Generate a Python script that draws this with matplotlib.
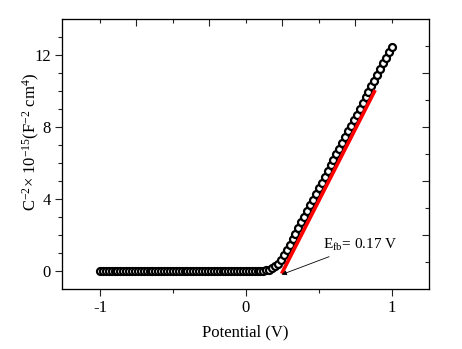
import matplotlib
matplotlib.use("Agg")
import matplotlib.pyplot as plt

plt.rcParams["font.family"] = ["Liberation Serif", "DejaVu Serif"]
plt.rcParams["mathtext.fontset"] = "custom"
plt.rcParams["mathtext.rm"] = "Liberation Serif"
plt.rcParams["mathtext.it"] = "Liberation Serif:italic"
plt.rcParams["axes.unicode_minus"] = False

# Mott-Schottky data (V, C^-2 x 1e-15)
potential = [
    -1.00, -0.98, -0.96, -0.94, -0.92, -0.90, -0.88, -0.86, -0.84, -0.82,
    -0.80, -0.78, -0.76, -0.74, -0.72, -0.70, -0.68, -0.66, -0.64, -0.62,
    -0.60, -0.58, -0.56, -0.54, -0.52, -0.50, -0.48, -0.46, -0.44, -0.42,
    -0.40, -0.38, -0.36, -0.34, -0.32, -0.30, -0.28, -0.26, -0.24, -0.22,
    -0.20, -0.18, -0.16, -0.14, -0.12, -0.10, -0.08, -0.06, -0.04, -0.02,
    0.00, 0.02, 0.04, 0.06, 0.08, 0.10, 0.12, 0.14, 0.16, 0.18,
    0.20, 0.22, 0.24, 0.26, 0.28, 0.30, 0.32, 0.34, 0.36, 0.38,
    0.40, 0.42, 0.44, 0.46, 0.48, 0.50, 0.52, 0.54, 0.56, 0.58,
    0.60, 0.62, 0.64, 0.66, 0.68, 0.70, 0.72, 0.74, 0.76, 0.78,
    0.80, 0.82, 0.84, 0.86, 0.88, 0.90, 0.92, 0.94, 0.96, 0.98,
    1.00,
]
inv_c2 = [
    0.00, 0.00, 0.00, 0.00, 0.00, 0.00, 0.00, 0.00, 0.00, 0.00,
    0.00, 0.00, 0.00, 0.00, 0.00, 0.00, 0.00, 0.00, 0.00, 0.00,
    0.00, 0.00, 0.00, 0.00, 0.00, 0.00, 0.00, 0.00, 0.00, 0.00,
    0.00, 0.00, 0.00, 0.00, 0.00, 0.00, 0.00, 0.00, 0.00, 0.00,
    0.00, 0.00, 0.00, 0.00, 0.00, 0.00, 0.00, 0.00, 0.00, 0.00,
    0.00, 0.00, 0.00, 0.01, 0.01, 0.01, 0.02, 0.03, 0.07, 0.14,
    0.25, 0.40, 0.60, 0.86, 1.15, 1.45, 1.76, 2.08, 2.39, 2.71,
    3.02, 3.34, 3.65, 3.97, 4.28, 4.60, 4.91, 5.23, 5.54, 5.86,
    6.17, 6.49, 6.80, 7.12, 7.43, 7.75, 8.06, 8.38, 8.69, 9.01,
    9.32, 9.64, 9.95, 10.27, 10.58, 10.90, 11.21, 11.53, 11.84, 12.16,
    12.47,
]
# linear fit drawn in red
fit_v = [0.245, 0.886]
fit_y = [-0.15, 10.05]
efb_label = r"E$_{\mathrm{fb}}$= 0.17 V"

fig = plt.figure(figsize=(4.62, 3.49), dpi=100)
ax = fig.add_axes([0.1342, 0.172, 0.7944, 0.7736])

ax.plot(potential, inv_c2, "-", color="black", lw=0.8, marker="o", ms=5.0,
        mfc="white", mec="black", mew=1.6, zorder=2)
ax.plot(fit_v, fit_y, color="red", lw=2.6, solid_capstyle="butt", zorder=3)
ax.annotate(efb_label, xy=(0.245, -0.2), xytext=(0.53, 1.45),
            fontsize=11, va="center", ha="left",
            arrowprops=dict(arrowstyle="-|>", color="black", lw=0.6,
                            mutation_scale=7, shrinkA=2, shrinkB=0))

ax.set_xlim(-1.26, 1.255)
ax.set_ylim(-1.0, 14.0)
ax.set_xticks([-1, 0, 1])
ax.set_xticks([-0.5, 0.5], minor=True)
ax.set_xticklabels(["-1", "0", "1"])
ax.set_yticks([0, 4, 8, 12])
ax.set_yticks([1, 2, 3, 5, 6, 7, 9, 10, 11, 13], minor=True)
ax.tick_params(which="major", direction="out", length=5, width=0.8,
               labelsize=12, pad=3, colors="#222222", labelcolor="black")
ax.tick_params(which="minor", direction="out", length=3, width=0.8,
               colors="#222222")
ax.set_xlabel("Potential (V)", fontsize=12, labelpad=6)
ax.set_ylabel(r"C$^{-2}$$\times$ 10$^{-15}$(F$^{-2}$ cm$^{4}$)",
              fontsize=12)
ax.yaxis.set_label_coords(-0.055, 0.546)
for s in ax.spines.values():
    s.set_linewidth(0.8)
    s.set_color("#222222")

# mirrored ticks on top and right (inward, own positions)
top = ax.twiny()
top.set_xlim(ax.get_xlim())
top.set_xticks([-0.75, -0.25, 0.25, 0.75])
top.set_xticks([-1, -0.5, 0, 0.5, 1], minor=True)
top.tick_params(which="major", direction="in", length=5, width=0.8,
                labeltop=False, colors="#222222")
top.tick_params(which="minor", direction="in", length=3, width=0.8,
                colors="#222222")

right = ax.twinx()
right.set_ylim(ax.get_ylim())
right.set_yticks([2, 5, 8, 11])
right.set_yticks([0.5, 3.5, 6.5, 9.5, 12.5], minor=True)
right.tick_params(which="major", direction="in", length=5, width=0.8,
                  labelright=False, colors="#222222")
right.tick_params(which="minor", direction="in", length=3, width=0.8,
                  colors="#222222")

fig.savefig("out.png", dpi=100)
